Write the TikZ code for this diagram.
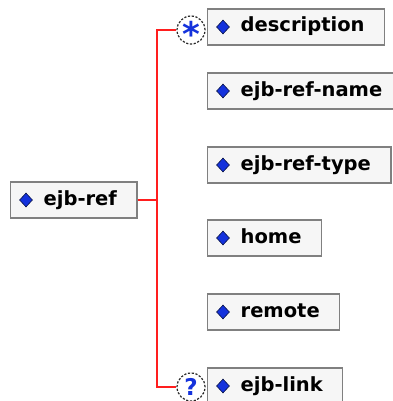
\documentclass[tikz,border=0pt]{standalone}
\usepackage{fontspec}
\setmainfont{DejaVu Sans}
\usetikzlibrary{shapes.geometric}
\definecolor{xsdred}{RGB}{255,30,30}
\definecolor{xsdblue}{RGB}{20,50,220}
\definecolor{xsdnavy}{RGB}{10,20,70}
\definecolor{xsdfill}{RGB}{246,246,246}
\definecolor{xsdframe}{RGB}{128,128,128}
\tikzset{
	xsd_el/.style = {rectangle, anchor=west, draw=xsdframe, fill=xsdfill,
		line width=1.3pt, minimum height=36pt, inner ysep=0pt, inner xsep=20pt,
		text height=14.5pt, text depth=4.5pt,
		font=\fontsize{19.5}{20}\selectfont\bfseries,
		execute at begin node=\hspace*{13pt}},% element, boite grise
	xsd_gem/.style = {diamond, fill=xsdblue, draw=xsdnavy, line width=.6pt,
		inner sep=0pt, minimum width=13pt, minimum height=14pt},% losange bleu
	xsd_card/.style = {circle, draw=black!85, dash pattern=on 2.2pt off 1.6pt,
		fill=white, line width=1.2pt, minimum size=28pt, inner sep=0pt,
		text=xsdblue},% cardinalite
	xsd_wire/.style = {draw=xsdred, line width=1.8pt}% trait rouge
}
\begin{document}
\begin{tikzpicture}[x=1pt,y=-1pt]
\useasboundingbox (0,0) rectangle (392,401);
	\node[xsd_el] (ref) at (10,200) {ejb-ref};
	\node[xsd_el] (desc) at (207,27) {description};
	\node[xsd_el] (name) at (207,91) {ejb-ref-name};
	\node[xsd_el] (type) at (207,165) {ejb-ref-type};
	\node[xsd_el] (home) at (207,238) {home};
	\node[xsd_el] (remote) at (207,312) {remote};
	\node[xsd_el] (link) at (207,386) {ejb-link};
	\foreach \n in {ref,desc,name,type,home,remote,link}
		\node[xsd_gem] (\n_g) at ([xshift=16pt]\n.west) {};
	\coordinate (fork) at (157,200);
	\draw[xsd_wire] (ref.east) -- (fork);
	\node[xsd_card, font=\fontsize{34}{34}\selectfont\bfseries,
		text height=10pt, text depth=0pt] (desc_c) at (191,30) {\raisebox{-12pt}{*}};
	\node[xsd_card, font=\fontsize{23}{23}\selectfont\bfseries] (link_c) at (191,387) {?};
	\draw[xsd_wire] (desc_c.west) -| (fork) |- (link_c.west);
\end{tikzpicture}
\end{document}
